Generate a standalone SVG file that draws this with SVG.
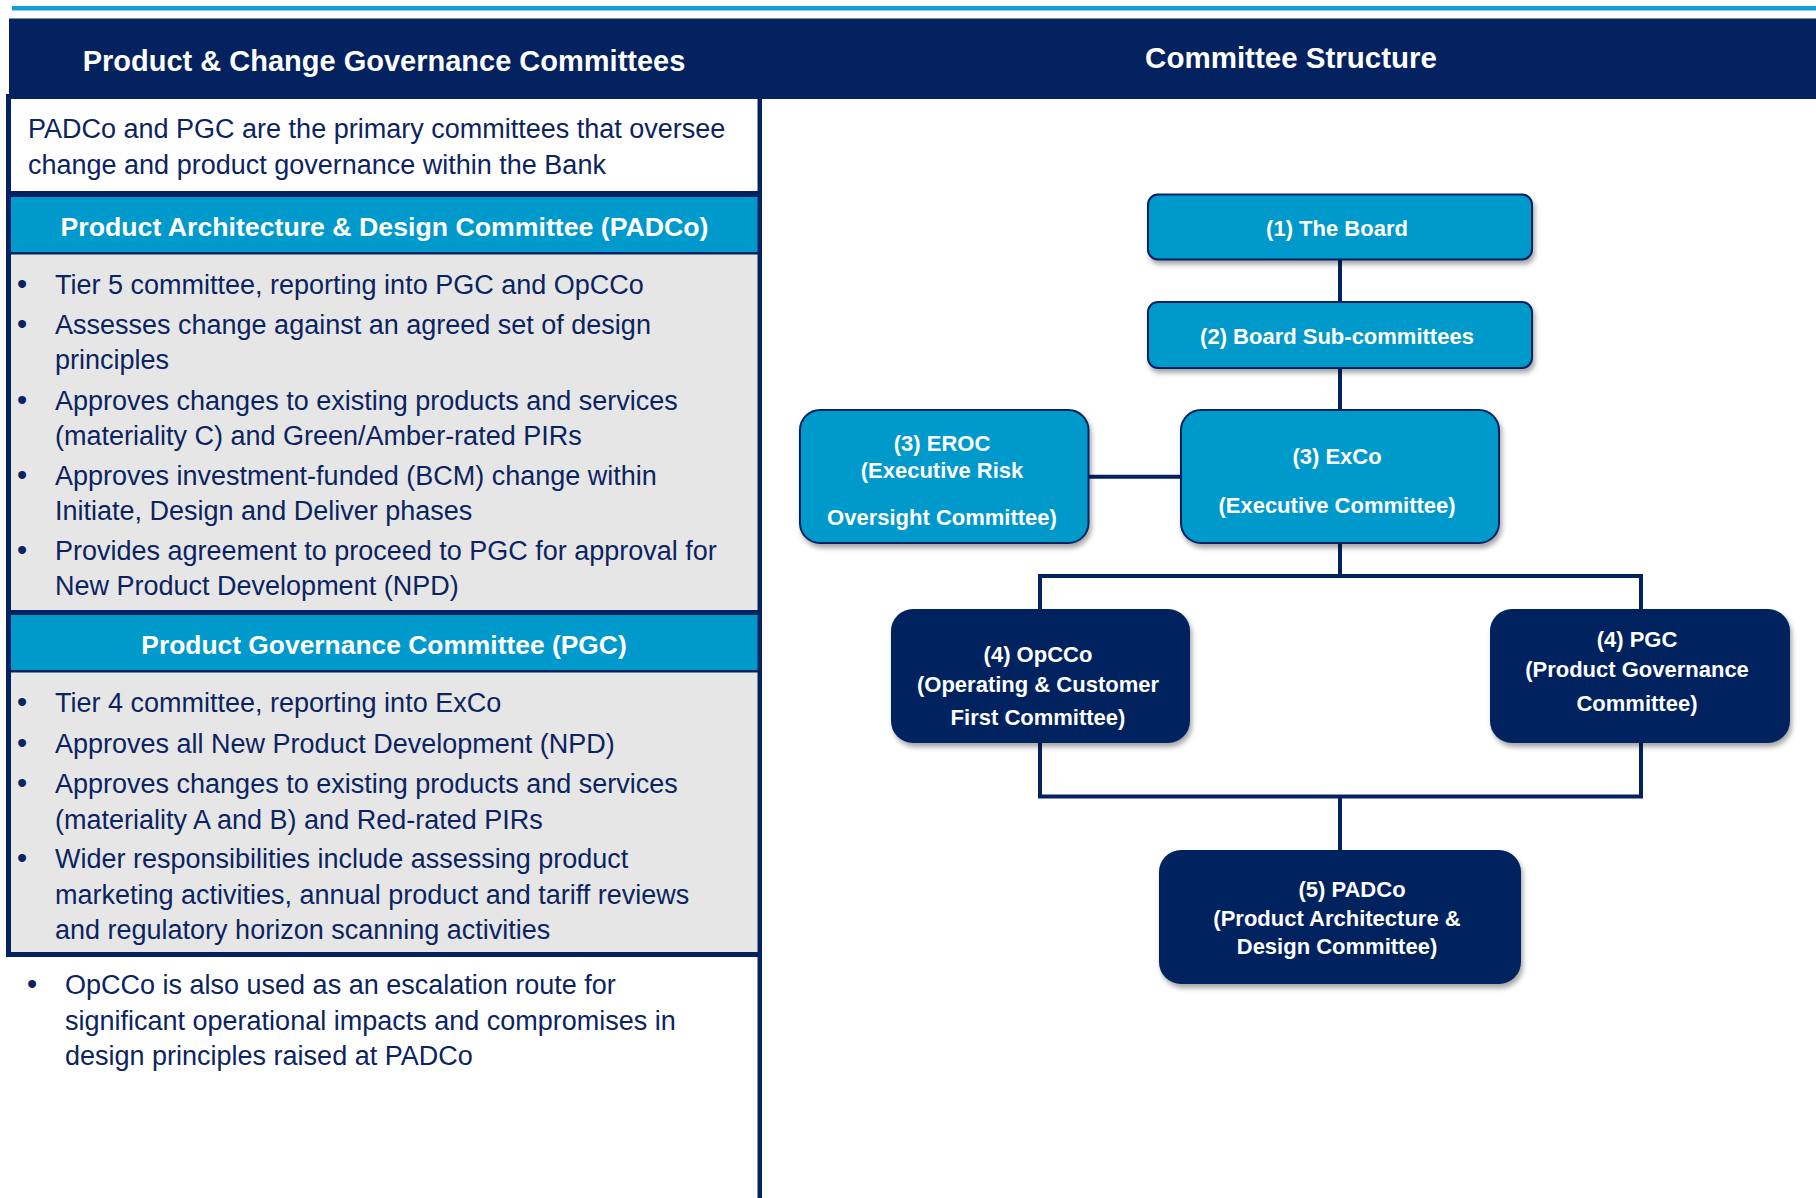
<svg xmlns="http://www.w3.org/2000/svg" width="1816" height="1198" viewBox="0 0 1816 1198">
<defs>
<style>
.navy{fill:#03225F}
.cyan{fill:#0099CC}
.gray{fill:#E6E6E6}
.body{font-family:"Liberation Sans",Arial,sans-serif;font-size:27px;fill:#0B2461}
.bul{font-family:"Liberation Sans",Arial,sans-serif;font-size:29px;fill:#0B2461;text-anchor:middle}
.title{font-family:"Liberation Sans",Arial,sans-serif;font-weight:bold;fill:#FFFFFF;text-anchor:middle}
.nt{font-family:"Liberation Sans",Arial,sans-serif;font-weight:bold;font-size:22px;fill:#FFFFFF;text-anchor:middle}
.nodeC{fill:#0099CC;stroke:#03225F;stroke-width:2}
.nodeN{fill:#03225F}
.conn{stroke:#03225F;stroke-width:4;fill:none}
</style>
<filter id="sh" x="-10%" y="-10%" width="130%" height="140%">
<feDropShadow dx="2" dy="4" stdDeviation="2.5" flood-color="#000000" flood-opacity="0.35"/>
</filter>
</defs>
<rect x="0" y="0" width="1816" height="1198" fill="#FFFFFF"/>
<!-- top line and header -->
<rect x="12" y="6" width="1804" height="4.5" fill="#14A0D2"/>
<rect x="9" y="18.5" width="1807" height="80.5" class="navy"/>
<text class="title" x="384" y="70.5" font-size="29">Product &amp; Change Governance Committees</text>
<text class="title" x="1291" y="67.5" font-size="29.5">Committee Structure</text>
<!-- left panel frame -->
<g id="left-panel">
<rect x="6" y="94" width="756" height="863" class="navy"/>
<rect x="757.5" y="957" width="4.5" height="241" class="navy"/>
<rect x="11" y="99" width="746.5" height="92" fill="#FFFFFF"/>
<rect x="11" y="197" width="746.5" height="55" class="cyan"/>
<rect x="11" y="254.5" width="746.5" height="355.5" class="gray"/>
<rect x="11" y="615" width="746.5" height="55" class="cyan"/>
<rect x="11" y="672.5" width="746.5" height="279.5" class="gray"/>
<text class="body" x="28" y="138">PADCo and PGC are the primary committees that oversee</text>
<text class="body" x="28" y="174">change and product governance within the Bank</text>
<text class="title" x="384.5" y="236" font-size="26.7">Product Architecture &amp; Design Committee (PADCo)</text>
<text class="bul" x="22" y="294">•</text>
<text class="body" x="55" y="294">Tier 5 committee, reporting into PGC and OpCCo</text>
<text class="bul" x="22" y="334">•</text>
<text class="body" x="55" y="334">Assesses change against an agreed set of design</text>
<text class="body" x="55" y="369">principles</text>
<text class="bul" x="22" y="410">•</text>
<text class="body" x="55" y="410">Approves changes to existing products and services</text>
<text class="body" x="55" y="445">(materiality C) and Green/Amber-rated PIRs</text>
<text class="bul" x="22" y="485">•</text>
<text class="body" x="55" y="485">Approves investment-funded (BCM) change within</text>
<text class="body" x="55" y="520">Initiate, Design and Deliver phases</text>
<text class="bul" x="22" y="560">•</text>
<text class="body" x="55" y="560">Provides agreement to proceed to PGC for approval for</text>
<text class="body" x="55" y="595">New Product Development (NPD)</text>
<text class="title" x="384" y="654" font-size="26.4">Product Governance Committee (PGC)</text>
<text class="bul" x="22" y="711.5">•</text>
<text class="body" x="55" y="711.5">Tier 4 committee, reporting into ExCo</text>
<text class="bul" x="22" y="752.5">•</text>
<text class="body" x="55" y="752.5">Approves all New Product Development (NPD)</text>
<text class="bul" x="22" y="792.5">•</text>
<text class="body" x="55" y="792.5">Approves changes to existing products and services</text>
<text class="body" x="55" y="828.5">(materiality A and B) and Red-rated PIRs</text>
<text class="bul" x="22" y="868">•</text>
<text class="body" x="55" y="868">Wider responsibilities include assessing product</text>
<text class="body" x="55" y="903.5">marketing activities, annual product and tariff reviews</text>
<text class="body" x="55" y="939">and regulatory horizon scanning activities</text>
<text class="bul" x="32" y="994">•</text>
<text class="body" x="65" y="994" font-size="27.6">OpCCo is also used as an escalation route for</text>
<text class="body" x="65" y="1029.5" font-size="27.6">significant operational impacts and compromises in</text>
<text class="body" x="65" y="1064.5" font-size="27.6">design principles raised at PADCo</text>
</g>
<!-- connectors -->
<g id="connectors">
<line class="conn" x1="1340" y1="259" x2="1340" y2="303"/>
<line class="conn" x1="1340" y1="367" x2="1340" y2="411"/>
<line class="conn" x1="1087" y1="476.7" x2="1182" y2="476.7"/>
<line class="conn" x1="1340" y1="542" x2="1340" y2="576"/>
<polyline class="conn" points="1040,610 1040,576 1641,576 1641,610"/>
<polyline class="conn" points="1040,742 1040,796.5 1641,796.5 1641,742"/>
<line class="conn" x1="1340" y1="796.5" x2="1340" y2="851"/>
</g>
<!-- nodes -->
<g id="node-board">
<rect class="nodeC" filter="url(#sh)" x="1148" y="194.5" width="384" height="65" rx="10"/>
<text class="nt" x="1337" y="236">(1) The Board</text>
</g>
<g id="node-subcommittees">
<rect class="nodeC" filter="url(#sh)" x="1148" y="302" width="384" height="66" rx="10"/>
<text class="nt" x="1337" y="344">(2) Board Sub-committees</text>
</g>
<g id="node-eroc">
<rect class="nodeC" filter="url(#sh)" x="800" y="410" width="288.5" height="133" rx="20"/>
<text class="nt" x="942" y="451">(3) EROC</text>
<text class="nt" x="942" y="477.7">(Executive Risk</text>
<text class="nt" x="942" y="525">Oversight Committee)</text>
</g>
<g id="node-exco">
<rect class="nodeC" filter="url(#sh)" x="1181" y="410" width="318" height="133" rx="20"/>
<text class="nt" x="1337" y="464">(3) ExCo</text>
<text class="nt" x="1337" y="513.3">(Executive Committee)</text>
</g>
<g id="node-opcco">
<rect class="nodeN" filter="url(#sh)" x="891" y="609" width="299" height="134" rx="22"/>
<text class="nt" x="1038" y="661.7">(4) OpCCo</text>
<text class="nt" x="1038" y="691.7">(Operating &amp; Customer</text>
<text class="nt" x="1038" y="725">First Committee)</text>
</g>
<g id="node-pgc">
<rect class="nodeN" filter="url(#sh)" x="1490" y="609" width="300" height="134" rx="22"/>
<text class="nt" x="1637" y="646.7">(4) PGC</text>
<text class="nt" x="1637" y="677.3">(Product Governance</text>
<text class="nt" x="1637" y="710.7">Committee)</text>
</g>
<g id="node-padco">
<rect class="nodeN" filter="url(#sh)" x="1159" y="850" width="362" height="134" rx="22"/>
<text class="nt" x="1352" y="897.3">(5) PADCo</text>
<text class="nt" x="1337" y="925.7">(Product Architecture &amp;</text>
<text class="nt" x="1337" y="954">Design Committee)</text>
</g>
</svg>
